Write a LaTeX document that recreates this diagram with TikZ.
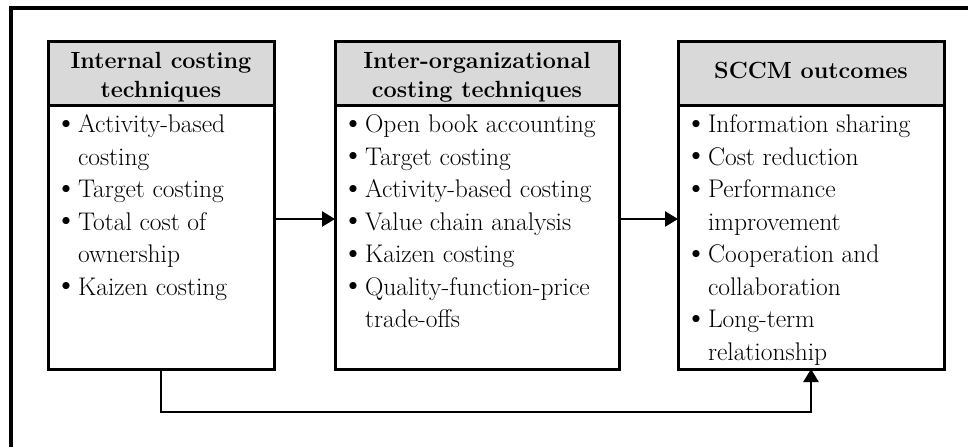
\documentclass[tikz,border=0pt]{standalone}
\usepackage{fontspec}
\usepackage{xcolor}
\usepackage{graphicx}
\usetikzlibrary{arrows.meta,positioning}

% a heavier bullet in a narrow box
\newcommand{\blt}{\makebox[8pt][c]{\raisebox{0.02em}{\scalebox{1.25}{\textbullet}}}}
% bullet list set at the top of a fixed-height body box
\newcommand{\bodylist}[2]{%
  \parbox[c][264pt][t]{#1}{\vspace*{5pt}%
    \begin{tabular}[t]{@{}l@{\hspace{8pt}}l@{}}#2\end{tabular}}}
% heading text, nudged down by #2
\newcommand{\headtext}[3]{%
  \parbox[c][64pt][c]{#1}{\centering\vspace*{#2}#3}}

\tikzset{
  headbox/.style={draw, line width=3pt, fill=gray!30, outer sep=0pt,
    inner sep=0pt, font=\fontsize{23.4}{29}\selectfont\bfseries},
  bodybox/.style={draw, line width=3pt, outer sep=0pt, inner xsep=14pt,
    inner ysep=0pt, font=\fontsize{25.5}{32.5}\selectfont},
  flow/.style={line width=2.5pt, -{Triangle[length=13pt,width=15pt]}}
}

\begin{document}
\begin{tikzpicture}[x=1pt,y=-1pt]
  \useasboundingbox (0,0) rectangle (968,447);
  % outer frame
  \draw[line width=4pt] (11,447) -- (11,7.5) -- (968,7.5);

  % internal techniques
  \node[headbox, anchor=north west] (int-h) at (48,41)
    {\headtext{226pt}{8pt}{Internal costing\\techniques}};
  \node[bodybox, below=0pt of int-h] (int-b) {\bodylist{198pt}{%
    \blt & Activity-based\\ & costing\\
    \blt & Target costing\\
    \blt & Total cost of\\ & ownership\\
    \blt & Kaizen costing}};

  % inter-organizational techniques
  \node[headbox, anchor=north west] (inter-h) at (335,41)
    {\headtext{284pt}{8pt}{Inter-organizational\\costing techniques}};
  \node[bodybox, below=0pt of inter-h] (inter-b) {\bodylist{256pt}{%
    \blt & Open book accounting\\
    \blt & Target costing\\
    \blt & Activity-based costing\\
    \blt & Value chain analysis\\
    \blt & Kaizen costing\\
    \blt & Quality-function-price\\ & trade-offs}};

  % outcomes
  \node[headbox, anchor=north west] (sccm-h) at (678,41)
    {\headtext{266pt}{-5pt}{SCCM outcomes}};
  \node[bodybox, below=0pt of sccm-h] (sccm-b) {\bodylist{238pt}{%
    \blt & Information sharing\\
    \blt & Cost reduction\\
    \blt & Performance\\ & improvement\\
    \blt & Cooperation and\\ & collaboration\\
    \blt & Long-term\\ & relationship}};

  % links
  \draw[flow] ([yshift=18pt]int-b.east) -- ([yshift=18pt]inter-b.west);
  \draw[flow] ([yshift=18pt]inter-b.east) -- ([yshift=18pt]sccm-b.west);
  \draw[flow] (int-b.south) -- ++(0,43) -| (sccm-b.south);
\end{tikzpicture}
\end{document}
